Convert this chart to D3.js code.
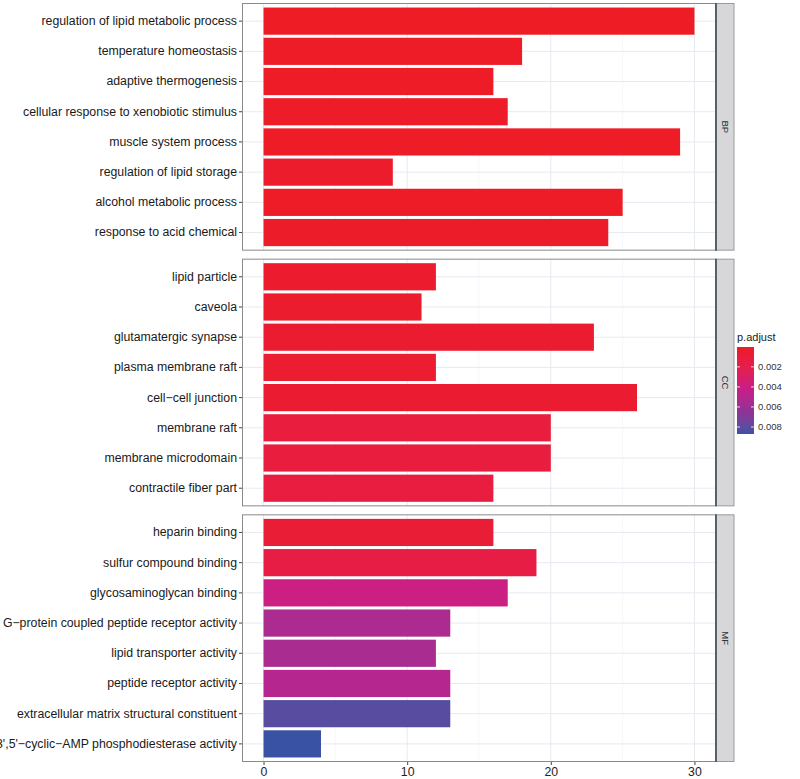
<!DOCTYPE html>
<html><head><meta charset="utf-8">
<script src="https://cdn.jsdelivr.net/npm/d3@7/dist/d3.min.js"></script>
<style>body{margin:0;background:#fff}svg{display:block;font-family:"Liberation Sans",Arial,sans-serif}</style>
</head><body><svg id="c" width="800" height="779"></svg>
<script>
const facets = ["BP", "CC", "MF"];
const bpTerms = ["regulation of lipid metabolic process","temperature homeostasis","adaptive thermogenesis","cellular response to xenobiotic stimulus","muscle system process","regulation of lipid storage","alcohol metabolic process","response to acid chemical"];
const bpCounts = [30, 18, 16, 17, 29, 9, 25, 24];
const bpPadj = [0.00002, 0.00010, 0.00012, 0.00015, 0.00005, 0.00030, 0.00008, 0.00018];
const ccTerms = ["lipid particle","caveola","glutamatergic synapse","plasma membrane raft","cell\u2212cell junction","membrane raft","membrane microdomain","contractile fiber part"];
const ccCounts = [12, 11, 23, 12, 26, 20, 20, 16];
const ccPadj = [0.00040, 0.00045, 0.00050, 0.00055, 0.00060, 0.00110, 0.00110, 0.00125];
const mfTerms = ["heparin binding","sulfur compound binding","glycosaminoglycan binding","G\u2212protein coupled peptide receptor activity","lipid transporter activity","peptide receptor activity","extracellular matrix structural constituent","3',5'\u2212cyclic\u2212AMP phosphodiesterase activity"];
const mfCounts = [16, 19, 17, 13, 12, 13, 13, 4];
const mfPadj = [0.00080, 0.00150, 0.00400, 0.00540, 0.00550, 0.00500, 0.00810, 0.00870];
const xTicks = [0, 10, 20, 30];
const xMinor = [5, 15, 25];
const legendTicks = [0.002, 0.004, 0.006, 0.008];

const groups = [
  {facet: facets[0], terms: bpTerms, counts: bpCounts, padj: bpPadj},
  {facet: facets[1], terms: ccTerms, counts: ccCounts, padj: ccPadj},
  {facet: facets[2], terms: mfTerms, counts: mfCounts, padj: mfPadj}
];

const svg = d3.select("#c");
const panelL = 242, panelR = 716, stripW = 18;
const top0 = 3, bottom0 = 762, gap = 8;
const ph = (bottom0 - top0 - 2 * gap) / 3;

const x = d3.scaleLinear().domain([-1.5, 31.5]).range([panelL, panelR]);
const allP = groups.flatMap(g => g.padj);
const pMin = d3.min(allP), pMax = d3.max(allP);
const gradCols = ["#EE1C25", "#E31E52", "#C51F8A", "#8E3297", "#3A52A4"];
const tScale = d3.scaleLinear().domain([pMin, pMax]).range([0, 1]);
const cScale = d3.scaleLinear().domain(d3.range(gradCols.length).map(i => i / (gradCols.length - 1))).range(gradCols).interpolate(d3.interpolateLab);
const color = v => cScale(tScale(v));

const labelFont = "12.3px";

groups.forEach((g, gi) => {
  const pt = top0 + gi * (ph + gap);
  const y = d3.scaleBand().domain(g.terms).range([pt, pt + ph]).paddingInner(0.1).paddingOuter(0.15);
  const gg = svg.append("g");
  gg.append("rect").attr("x", panelL).attr("y", pt).attr("width", panelR - panelL).attr("height", ph).attr("fill", "#fff");
  gg.selectAll(".gmin").data(xMinor).join("line").attr("x1", d => x(d)).attr("x2", d => x(d)).attr("y1", pt).attr("y2", pt + ph).attr("stroke", "#F2F4F8").attr("stroke-width", 0.6);
  gg.selectAll(".gmaj").data(xTicks).join("line").attr("x1", d => x(d)).attr("x2", d => x(d)).attr("y1", pt).attr("y2", pt + ph).attr("stroke", "#E6EAF1").attr("stroke-width", 1);
  gg.selectAll(".gy").data(g.terms).join("line").attr("x1", panelL).attr("x2", panelR).attr("y1", d => y(d) + y.bandwidth() / 2).attr("y2", d => y(d) + y.bandwidth() / 2).attr("stroke", "#E6EAF1").attr("stroke-width", 1);
  gg.selectAll(".bar").data(g.terms).join("rect")
    .attr("x", x(0)).attr("y", d => y(d))
    .attr("width", (d, i) => x(g.counts[i]) - x(0)).attr("height", y.bandwidth())
    .attr("fill", (d, i) => color(g.padj[i]));
  gg.append("rect").attr("x", panelL + 0.5).attr("y", pt + 0.5).attr("width", panelR - panelL - 1).attr("height", ph - 1).attr("fill", "none").attr("stroke", "#8a8a8a").attr("stroke-width", 1);
  const ya = d3.axisLeft(y).tickSize(3).tickPadding(2);
  const yg = gg.append("g").attr("transform", `translate(${panelL},0)`).call(ya);
  yg.select(".domain").remove();
  yg.selectAll(".tick line").attr("stroke", "#444");
  yg.selectAll(".tick text").attr("fill", "#1a1a1a").style("font-size", labelFont).style("font-family", "'Liberation Sans',Arial,sans-serif");
  gg.append("rect").attr("x", panelR).attr("y", pt + 0.5).attr("width", stripW).attr("height", ph - 1).attr("fill", "#D7D7D9").attr("stroke", "#9a9a9a").attr("stroke-width", 1);
  gg.append("line").attr("x1", panelR).attr("x2", panelR).attr("y1", pt).attr("y2", pt + ph).attr("stroke", "#3b4a55").attr("stroke-width", 1.5);
  gg.append("text").attr("transform", `translate(${panelR + stripW / 2},${pt + ph / 2}) rotate(90)`)
    .attr("text-anchor", "middle").attr("dy", "0.35em").style("font-size", "9.5px").attr("fill", "#333").text(g.facet);
});

const xa = d3.axisBottom(x).tickValues(xTicks).tickSize(3).tickPadding(2);
const xg = svg.append("g").attr("transform", `translate(0,${bottom0})`).call(xa);
xg.select(".domain").remove();
xg.selectAll(".tick line").attr("stroke", "#444");
xg.selectAll(".tick text").attr("fill", "#222").style("font-size", labelFont).style("font-family", "'Liberation Sans',Arial,sans-serif");

const lgX = 737, lgW = 17, lgT = 347, lgB = 434;
const defs = svg.append("defs");
const grad = defs.append("linearGradient").attr("id", "lg").attr("x1", 0).attr("x2", 0).attr("y1", 0).attr("y2", 1);
d3.range(0, 1.0001, 0.05).forEach(t => grad.append("stop").attr("offset", t).attr("stop-color", cScale(t)));
svg.append("text").attr("x", lgX).attr("y", lgT - 6).style("font-size", "11px").attr("fill", "#1a1a1a").text("p.adjust");
svg.append("rect").attr("x", lgX).attr("y", lgT).attr("width", lgW).attr("height", lgB - lgT).attr("fill", "url(#lg)");
const ly = d3.scaleLinear().domain([pMin, pMax]).range([lgT, lgB]);
legendTicks.forEach(v => {
  svg.append("line").attr("x1", lgX).attr("x2", lgX + 3).attr("y1", ly(v)).attr("y2", ly(v)).attr("stroke", "#fff").attr("stroke-width", 0.8);
  svg.append("line").attr("x1", lgX + lgW - 3).attr("x2", lgX + lgW).attr("y1", ly(v)).attr("y2", ly(v)).attr("stroke", "#fff").attr("stroke-width", 0.8);
  svg.append("text").attr("x", lgX + lgW + 4).attr("y", ly(v)).attr("dy", "0.35em").style("font-size", "9.5px").attr("fill", "#333").text(v.toFixed(3));
});
</script></body></html>
